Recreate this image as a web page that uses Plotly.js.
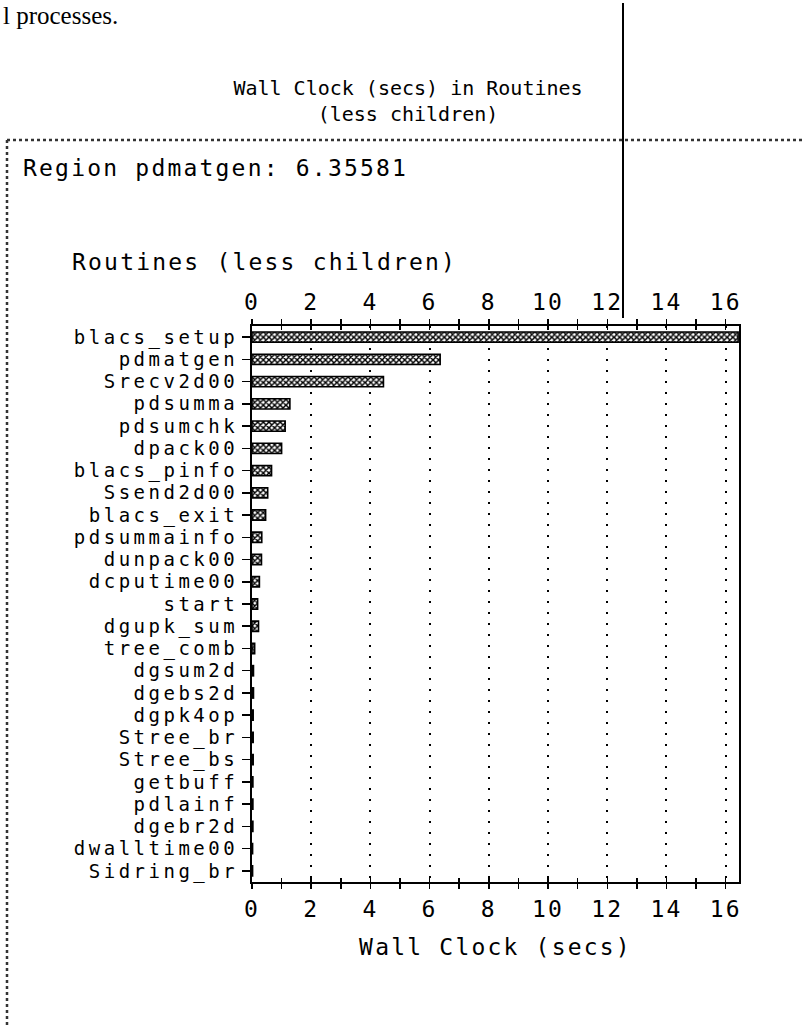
<!DOCTYPE html>
<html>
<head>
<meta charset="utf-8">
<script src="https://cdn.plot.ly/plotly-3.0.1.min.js"></script>
<style>
  html, body { margin: 0; padding: 0; background: #fff; }
  #chart { width: 802px; height: 1028px; }
  svg text[style*="font-size: 23px"] { letter-spacing: 2.2px; }
  svg text[style*="font-size: 19px"] { letter-spacing: 3.5px; }
</style>
</head>
<body>
<div id="chart"></div>
<script>
// ---- data ----
var routines = ["blacs_setup", "pdmatgen", "Srecv2d00", "pdsumma", "pdsumchk", "dpack00",
  "blacs_pinfo", "Ssend2d00", "blacs_exit", "pdsummainfo", "dunpack00", "dcputime00",
  "start", "dgupk_sum", "tree_comb", "dgsum2d", "dgebs2d", "dgpk4op", "Stree_br",
  "Stree_bs", "getbuff", "pdlainf", "dgebr2d", "dwalltime00", "Sidring_br"];
var wallClock = [16.42, 6.35581, 4.44, 1.28, 1.12, 1.0,
  0.66, 0.53, 0.46, 0.33, 0.32, 0.25,
  0.19, 0.22, 0.09, 0.05, 0.05, 0.04, 0.04,
  0.04, 0.03, 0.03, 0.03, 0.02, 0.02];
var xTickVals = [0, 2, 4, 6, 8, 10, 12, 14, 16];
var regionName = "pdmatgen";
var regionValue = 6.35581;
var chartTitle = "Wall Clock (secs) in Routines<br>(less children)";
var panelTitle = "Routines (less children)";
var xTitle = "Wall Clock (secs)";
var pageText = "l processes.";

// ---- layout helpers (pixel -> paper) ----
var L = 252, R = 739, T = 326, B = 882, W = 802, H = 1028;
function X(px) { return (px - L) / (R - L); }
function Y(py) { return (B - py) / (B - T); }

var mono = "DejaVu Sans Mono, monospace";
var xRange = [0, 16.45];

var bars = {
  type: "bar",
  orientation: "h",
  x: wallClock,
  y: routines,
  width: 0.46,
  marker: {
    color: "white",
    line: { color: "black", width: 1.6 },
    pattern: { shape: "x", size: 4, solidity: 0.6, fgcolor: "black", bgcolor: "white" }
  },
  hoverinfo: "x+y",
  showlegend: false
};

// carriers so the extra (overlaid) x axes get drawn; they draw no marks
function carrier(ax) {
  return { type: "scatter", mode: "none", x: wallClock, y: routines, xaxis: ax, yaxis: "y",
           hoverinfo: "skip", showlegend: false };
}

var tickCommon = {
  range: xRange,
  tickmode: "array",
  tickvals: xTickVals,
  ticklen: 5,
  tickwidth: 1.5,
  tickcolor: "black",
  minor: { dtick: 1, ticks: "outside", ticklen: 5, tickwidth: 1.5, tickcolor: "black" }
};

var layout = {
  width: W,
  height: H,
  margin: { l: L, r: W - R, t: T, b: H - B, pad: 0 },
  paper_bgcolor: "white",
  plot_bgcolor: "white",
  font: { family: mono, size: 23, color: "black" },
  title: {
    text: chartTitle,
    font: { family: mono, size: 20, color: "black" },
    xref: "container", yref: "container",
    x: 408 / W, xanchor: "center",
    y: 1 - 95 / H, yanchor: "middle"
  },
  xaxis: Object.assign({}, tickCommon, {
    side: "bottom",
    ticks: "outside",
    showline: true, linecolor: "black", linewidth: 2,
    showgrid: true, gridcolor: "black", gridwidth: 2, griddash: "2px,9px",
    zeroline: false,
    tickfont: { family: mono, size: 23, color: "black" },
    title: { text: xTitle, font: { family: mono, size: 23, color: "black" }, standoff: 18 }
  }),
  xaxis2: Object.assign({}, tickCommon, {
    overlaying: "x", side: "top", anchor: "y",
    ticks: "outside",
    showline: true, linecolor: "black", linewidth: 2,
    showgrid: false, zeroline: false,
    tickfont: { family: mono, size: 23, color: "black" }
  }),
  xaxis3: Object.assign({}, tickCommon, {
    overlaying: "x", side: "bottom", anchor: "y",
    ticks: "inside", showticklabels: false, ticklen: 4,
    minor: { dtick: 1, ticks: "inside", ticklen: 4, tickwidth: 1.5, tickcolor: "black" },
    showline: false, showgrid: false, zeroline: false
  }),
  xaxis4: Object.assign({}, tickCommon, {
    overlaying: "x", side: "top", anchor: "y",
    ticks: "inside", showticklabels: false, ticklen: 4,
    minor: { dtick: 1, ticks: "inside", ticklen: 4, tickwidth: 1.5, tickcolor: "black" },
    showline: false, showgrid: false, zeroline: false
  }),
  yaxis: {
    type: "category",
    categoryorder: "array",
    categoryarray: routines,
    tickmode: "array",
    tickvals: routines,
    ticktext: routines,
    range: [routines.length - 0.5, -0.5],
    ticks: "outside", ticklen: 8, tickwidth: 1.5, tickcolor: "black",
    showline: true, linecolor: "black", linewidth: 2, mirror: true,
    showgrid: false, zeroline: false,
    tickfont: { family: mono, size: 19, color: "black" }
  },
  annotations: [
    {
      text: "Region " + regionName + ": " + regionValue,
      xref: "paper", yref: "paper", x: X(21), y: Y(168),
      xanchor: "left", yanchor: "middle", showarrow: false,
      font: { family: mono, size: 23, color: "black" }
    },
    {
      text: panelTitle,
      xref: "paper", yref: "paper", x: X(70), y: Y(262),
      xanchor: "left", yanchor: "middle", showarrow: false,
      font: { family: mono, size: 23, color: "black" }
    },
    {
      text: pageText,
      xref: "paper", yref: "paper", x: X(2), y: Y(1),
      xanchor: "left", yanchor: "top", showarrow: false, borderpad: 0,
      font: { family: "Liberation Serif, serif", size: 25, color: "black" }
    }
  ],
  shapes: [
    { type: "line", xref: "paper", yref: "paper", x0: X(7), x1: X(802), y0: Y(140), y1: Y(140),
      line: { color: "#333", width: 2.5, dash: "dot" } },
    { type: "line", xref: "paper", yref: "paper", x0: X(7), x1: X(7), y0: Y(140), y1: Y(1028),
      line: { color: "#333", width: 2.5, dash: "dot" } },
    { type: "line", xref: "paper", yref: "paper", x0: X(623), x1: X(623), y0: Y(3), y1: Y(318),
      line: { color: "black", width: 2 } }
  ]
};

Plotly.newPlot("chart", [bars, carrier("x2"), carrier("x3"), carrier("x4")], layout,
  { staticPlot: true, displayModeBar: false });
</script>
</body>
</html>
